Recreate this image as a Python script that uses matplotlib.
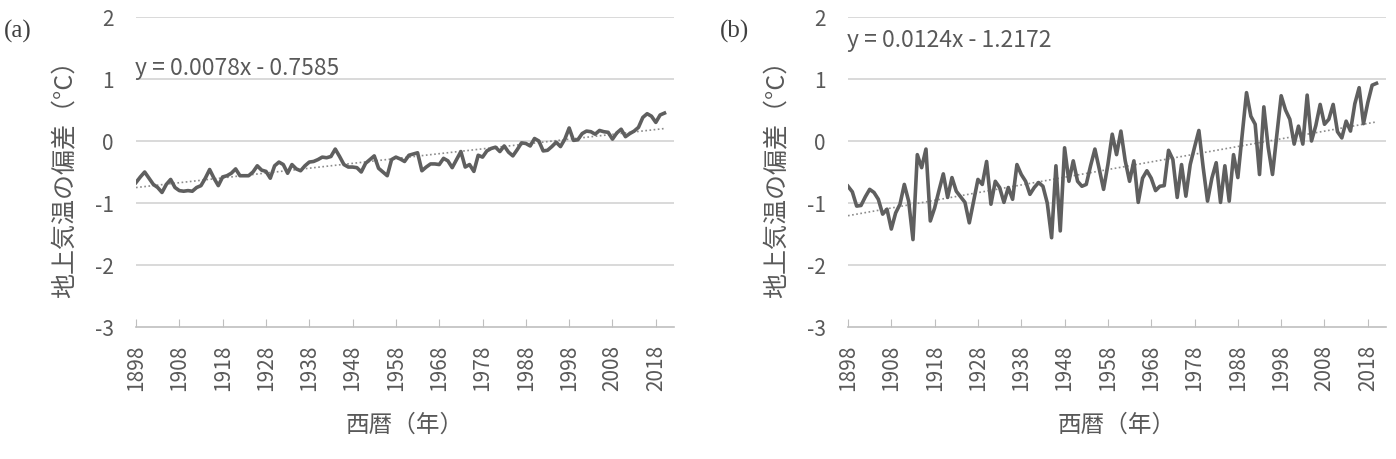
import numpy as np
import matplotlib
matplotlib.use('Agg')
import matplotlib.pyplot as plt

plt.rcParams['font.family'] = ['Noto Sans CJK JP', 'DejaVu Sans']

# 年 (1898-2020)
years = np.arange(1898, 2021)

# (a) 世界の地上気温偏差
anom_a = [
    -0.67, -0.58, -0.50, -0.60, -0.70, -0.75, -0.83, -0.70, -0.62, -0.75,
    -0.80, -0.81, -0.80, -0.81, -0.75, -0.72, -0.60, -0.46, -0.60, -0.72,
    -0.58, -0.56, -0.52, -0.45, -0.56, -0.56, -0.56, -0.50, -0.40, -0.47,
    -0.49, -0.60, -0.40, -0.34, -0.38, -0.52, -0.38, -0.45, -0.48, -0.40,
    -0.34, -0.33, -0.30, -0.26, -0.27, -0.25, -0.13, -0.25, -0.38, -0.42,
    -0.42, -0.43, -0.50, -0.36, -0.30, -0.24, -0.44, -0.50, -0.56, -0.30,
    -0.26, -0.29, -0.33, -0.23, -0.21, -0.19, -0.48, -0.42, -0.37, -0.37,
    -0.38, -0.28, -0.32, -0.43, -0.30, -0.17, -0.42, -0.38, -0.49, -0.23,
    -0.26, -0.16, -0.12, -0.10, -0.17, -0.08, -0.18, -0.24, -0.14, -0.03,
    -0.04, -0.08, 0.04, 0.00, -0.16, -0.15, -0.09, -0.02, -0.09, 0.03,
    0.21, 0.01, 0.02, 0.12, 0.16, 0.15, 0.11, 0.17, 0.15, 0.14,
    0.03, 0.13, 0.19, 0.07, 0.12, 0.16, 0.22, 0.38, 0.44, 0.40,
    0.30, 0.42, 0.45,
]

# (b) 日本の地上気温偏差
anom_b = [
    -0.73, -0.82, -1.05, -1.04, -0.90, -0.78, -0.83, -0.94, -1.18, -1.10,
    -1.42, -1.16, -1.02, -0.70, -0.97, -1.59, -0.22, -0.43, -0.13, -1.29,
    -1.08, -0.80, -0.53, -0.91, -0.59, -0.81, -0.90, -0.99, -1.32, -0.97,
    -0.62, -0.70, -0.33, -1.02, -0.65, -0.75, -0.99, -0.75, -0.94, -0.38,
    -0.54, -0.65, -0.86, -0.75, -0.67, -0.73, -1.00, -1.56, -0.40, -1.45,
    -0.11, -0.65, -0.32, -0.65, -0.73, -0.70, -0.40, -0.13, -0.45, -0.78,
    -0.38, 0.11, -0.22, 0.16, -0.32, -0.65, -0.32, -0.99, -0.60, -0.48,
    -0.60, -0.80, -0.73, -0.72, -0.15, -0.30, -0.91, -0.38, -0.89, -0.38,
    -0.10, 0.17, -0.43, -0.97, -0.60, -0.35, -0.99, -0.40, -0.97, -0.22,
    -0.59, 0.10, 0.78, 0.40, 0.27, -0.54, 0.55, -0.10, -0.54, 0.10,
    0.73, 0.50, 0.35, -0.05, 0.24, -0.05, 0.74, 0.00, 0.25, 0.59,
    0.27, 0.35, 0.59, 0.15, 0.05, 0.32, 0.16, 0.60, 0.86, 0.28,
    0.62, 0.90, 0.93,
]

# 近似直線 (x = 1, 2, ...)
trend_a = (0.0078, -0.7585)
trend_b = (0.0124, -1.2172)
eq_a = 'y = 0.0078x - 0.7585'
eq_b = 'y = 0.0124x - 1.2172'

xticks = np.arange(1898, 2019, 10)
yticks = [-3, -2, -1, 0, 1, 2]

txt_col = '#595959'
line_col = '#5f5f5f'
grid_col = '#d9d9d9'

fig = plt.figure(figsize=(13.96, 4.6), dpi=100)
ax_a = fig.add_axes([136 / 1396, 1 - 328 / 460, 538 / 1396, 310 / 460])
ax_b = fig.add_axes([848 / 1396, 1 - 328 / 460, 538 / 1396, 310 / 460])

panels = [
    (ax_a, anom_a, trend_a, eq_a, 1.19, '(a)', 4 / 1396),
    (ax_b, anom_b, trend_b, eq_b, 1.64, '(b)', 720 / 1396),
]

for ax, vals, (k, b), eq, eq_y, tag, tag_x in panels:
    idx = np.arange(1, len(years) + 1)
    ax.plot(years, k * idx + b, color='#8c8c8c', lw=1.2, ls=(0, (1, 1.5)), zorder=2)
    ax.plot(years, vals, color=line_col, lw=2.6, zorder=3, solid_joinstyle='round')

    ax.set_xlim(1898, 2022.2)
    ax.set_ylim(-3, 2)
    ax.set_yticks(yticks)
    ax.set_yticklabels([str(v) for v in yticks])
    ax.set_xticks(xticks)
    ax.set_xticklabels([str(v) for v in xticks], rotation=90)

    for v in [-2, -1, 0, 1, 2]:
        ax.axhline(v, color=grid_col, lw=1.4, zorder=1)

    for s in ['top', 'right', 'left']:
        ax.spines[s].set_visible(False)
    ax.spines['bottom'].set_color('#bfbfbf')
    ax.spines['bottom'].set_linewidth(1.2)

    ax.tick_params(axis='x', direction='in', length=6, color='#bfbfbf',
                   labelsize=15, labelcolor=txt_col, pad=12)
    ax.tick_params(axis='y', length=0, labelsize=15, labelcolor=txt_col, pad=16)

    ax.text(1897.8, eq_y, eq, fontsize=16.5, color=txt_col, va='center', ha='left')
    ax.set_xlabel('西暦（年）', fontsize=17, color=txt_col, labelpad=16)
    ax.set_ylabel('地上気温の偏差（°C）', fontsize=18, color=txt_col, labelpad=12)

    fig.text(tag_x, 1 - 31 / 460, tag, fontsize=18, color='#404040',
             family=['Liberation Serif', 'DejaVu Serif'], va='center', ha='left')

fig.savefig('out.png', dpi=100)
